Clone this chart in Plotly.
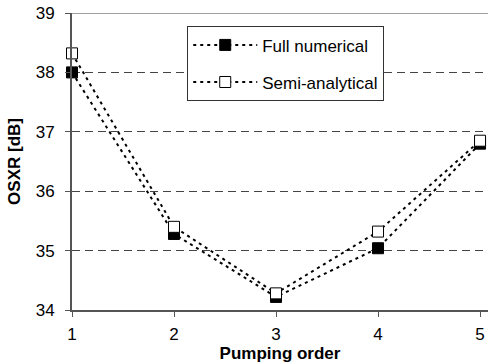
import plotly.graph_objects as go

orders = [1, 2, 3, 4, 5]
full_numerical = [38.0, 35.28, 34.22, 35.04, 36.80]
semi_analytical = [38.32, 35.40, 34.28, 35.32, 36.85]
x_ticks = [1, 2, 3, 4, 5]
y_ticks = [34, 35, 36, 37, 38, 39]

FONT = "Liberation Sans, Arial, sans-serif"

fig = go.Figure()
fig.add_trace(go.Scatter(
    x=orders, y=full_numerical, name="Full numerical", mode="lines+markers",
    legendgroup="a",
    line=dict(color="black", width=2, dash="3px,4px"),
    marker=dict(symbol="square", size=11, color="black", line=dict(color="black", width=1)),
    cliponaxis=False))
fig.add_trace(go.Scatter(
    x=orders, y=semi_analytical, name="Semi-analytical", mode="lines+markers",
    legendgroup="b",
    line=dict(color="black", width=2, dash="3px,4px"),
    marker=dict(symbol="square", size=11, color="white", line=dict(color="black", width=1)),
    cliponaxis=False))

fig.add_shape(type="line", xref="paper", yref="y", x0=0, x1=1, y0=39, y1=39,
              line=dict(color="#808080", width=1.5), layer="below")

fig.update_layout(
    width=488, height=363,
    margin=dict(l=72, r=0, t=13, b=53),
    paper_bgcolor="white", plot_bgcolor="white",
    font=dict(family=FONT, size=17, color="black"),
    showlegend=True,
    legend=dict(x=0.277, y=0.955, xanchor="left", yanchor="top",
                bordercolor="#333333", borderwidth=1, bgcolor="white",
                font=dict(size=17), tracegroupgap=12,
                itemwidth=64),
    xaxis=dict(range=[1, 5.078], tickvals=x_ticks, showgrid=False, zeroline=False,
               showline=True, linecolor="#555555", linewidth=2,
               ticks="outside", ticklen=5, tickcolor="#555555",
               tickfont=dict(size=17), ticklabelstandoff=3,
               title=dict(text="<b>Pumping order</b>", font=dict(size=17), standoff=0)),
    yaxis=dict(range=[34, 39], tickvals=y_ticks, showgrid=True,
               gridcolor="#444444", griddash="8px,5px", gridwidth=1, zeroline=False,
               showline=True, linecolor="#555555", linewidth=2,
               ticks="outside", ticklen=5, tickcolor="#555555",
               tickfont=dict(size=17), ticklabelstandoff=7,
               title=dict(text="<b>OSXR [dB]</b>", font=dict(size=17), standoff=11)),
)

fig.write_html("out.html")
